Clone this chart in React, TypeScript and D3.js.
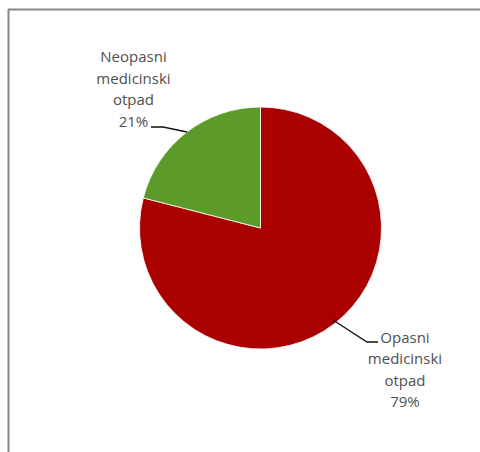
import React from "react";
import * as d3 from "d3";

const categories = ["Opasni medicinski otpad", "Neopasni medicinski otpad"];
const values = [79, 21];
const colors = ["#aa0000", "#5c9a2a"];
const labelLines = [
  ["Opasni", "medicinski", "otpad", "79%"],
  ["Neopasni", "medicinski", "otpad", "21%"],
];

export default function App() {
  const W = 480, H = 452;
  const cx = 260.5, cy = 228, r = 121;
  const pie = d3.pie<number>().sort(null).startAngle(0).endAngle(2 * Math.PI);
  const arcs = pie(values);
  const arc = d3.arc<d3.PieArcDatum<number>>().innerRadius(0).outerRadius(r);

  const labelPos = [
    { x: 405, y: 337.5, anchorPt: [333, 320], elbow: [367, 342], end: [378, 342] },
    { x: 133.5, y: 57, anchorPt: [187, 132], elbow: [163, 127], end: [151, 127] },
  ];
  const lh = 21.5;

  return (
    <svg width={W} height={H} style={{ position: "absolute", left: 0, top: 0 }}>
      <rect x={0} y={0} width={W} height={H} fill="#fff" />
      <line x1={8} y1={9.5} x2={W} y2={9.5} stroke="#888" strokeWidth={2} />
      <line x1={8.5} y1={9} x2={8.5} y2={H} stroke="#888" strokeWidth={2} />
      <g transform={`translate(${cx},${cy})`}>
        {arcs.map((a, i) => (
          <path key={categories[i]} d={arc(a) || ""} fill={colors[i]} stroke="#fff" strokeWidth={0.8} />
        ))}
      </g>
      {labelPos.map((p, i) => (
        <g key={i}>
          <polyline
            points={[p.anchorPt, p.elbow, p.end].map((q) => q.join(",")).join(" ")}
            fill="none"
            stroke="#111"
            strokeWidth={1.3}
          />
          <text
            textAnchor="middle"
            fontFamily="'Open Sans', sans-serif"
            fontSize={15}
            fill="#505050"
          >
            {labelLines[i].map((t, j) => (
              <tspan key={j} x={p.x} y={p.y + j * lh} dy="0.35em">
                {t}
              </tspan>
            ))}
          </text>
        </g>
      ))}
    </svg>
  );
}
